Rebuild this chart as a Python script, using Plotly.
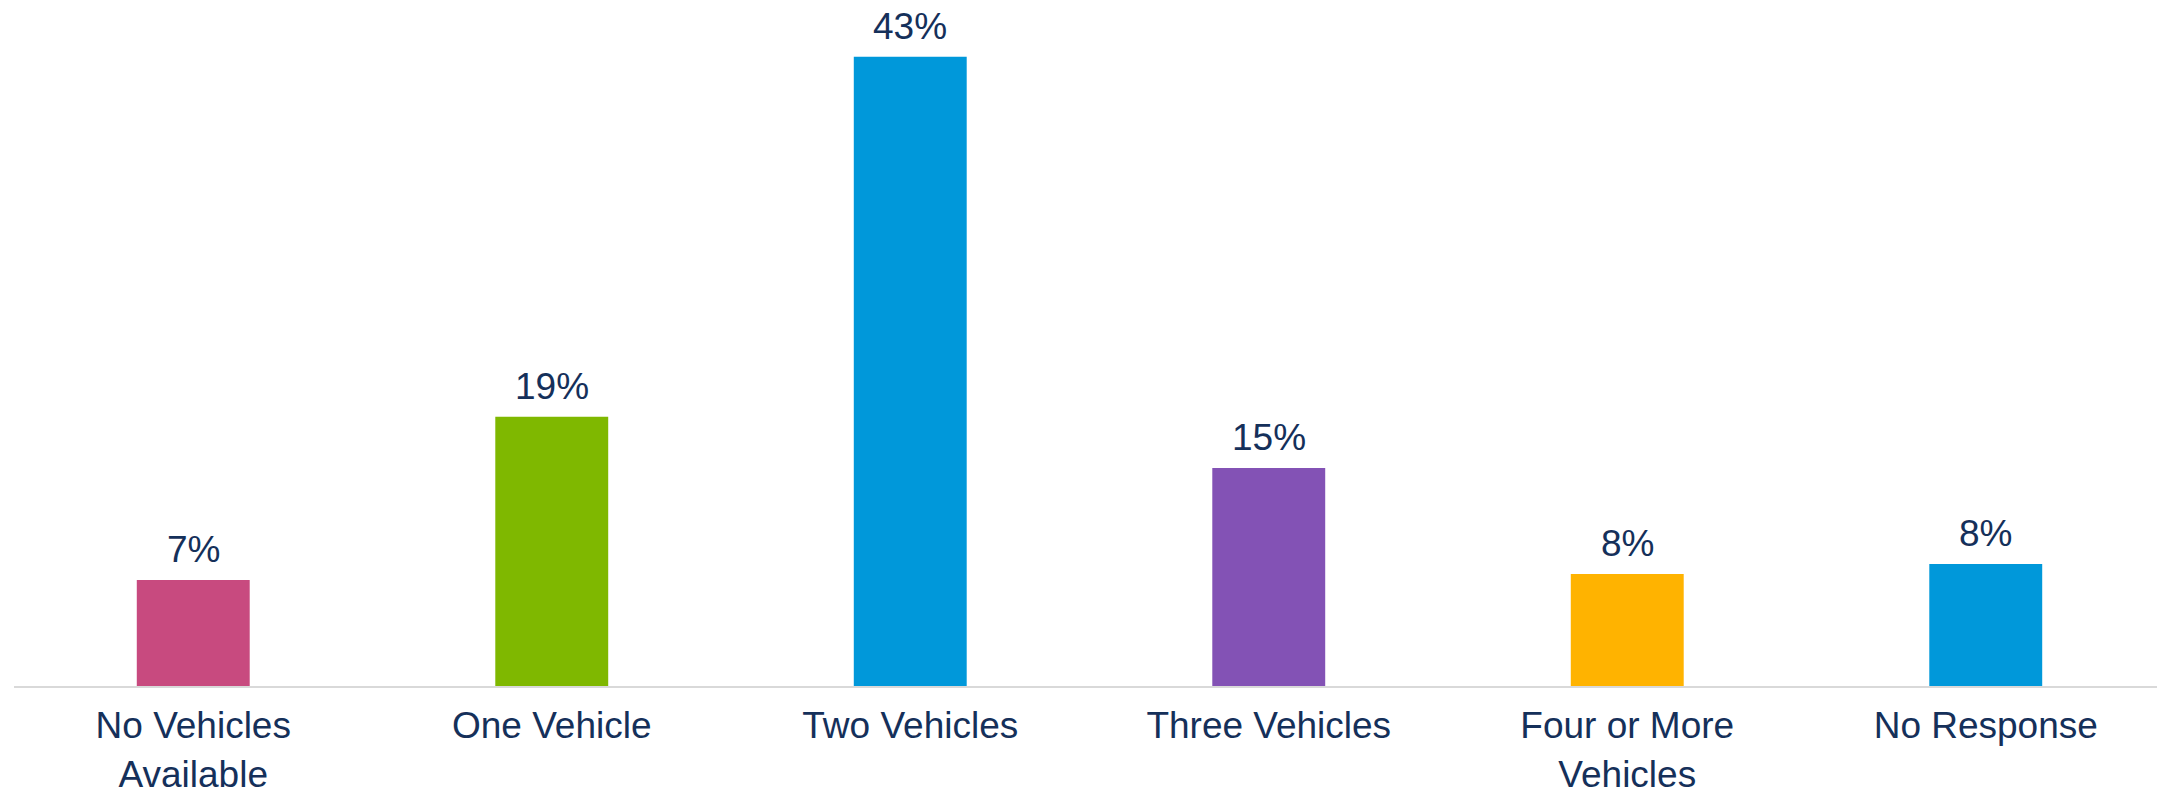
import plotly.graph_objects as go

categories = ["No Vehicles<br>Available", "One Vehicle", "Two Vehicles",
              "Three Vehicles", "Four or More<br>Vehicles", "No Response"]
values = [7.24, 18.4, 43.0, 14.9, 7.65, 8.34]
labels = ["7%", "19%", "43%", "15%", "8%", "8%"]
colors = ["#C84A7F", "#7FB800", "#0098DA", "#8352B5", "#FFB300", "#0098DA"]

TEXT = "#15305A"
FONT = "Liberation Sans, Arial, sans-serif"

fig = go.Figure(go.Bar(
    x=categories, y=values, marker=dict(color=colors, line=dict(width=0)),
    hoverinfo="skip",
))

for c, v, t in zip(categories, values, labels):
    fig.add_annotation(x=c, y=v, text=t, showarrow=False, yanchor="bottom",
                       yshift=8, font=dict(size=37, color=TEXT, family=FONT))

fig.update_layout(
    width=2165, height=790,
    margin=dict(l=6, r=8, t=0, b=112),
    plot_bgcolor="white", paper_bgcolor="white",
    bargap=0.685, showlegend=False,
    font=dict(family=FONT, size=37, color=TEXT),
    xaxis=dict(showline=True, linecolor="#D9D9D9", linewidth=2, ticks="",
               tickfont=dict(size=37, color=TEXT, family=FONT), showgrid=False,
               ticklabelstandoff=6),
    yaxis=dict(range=[0, 46.33], visible=False, showgrid=False, zeroline=False),
)

fig.write_html("out.html")
